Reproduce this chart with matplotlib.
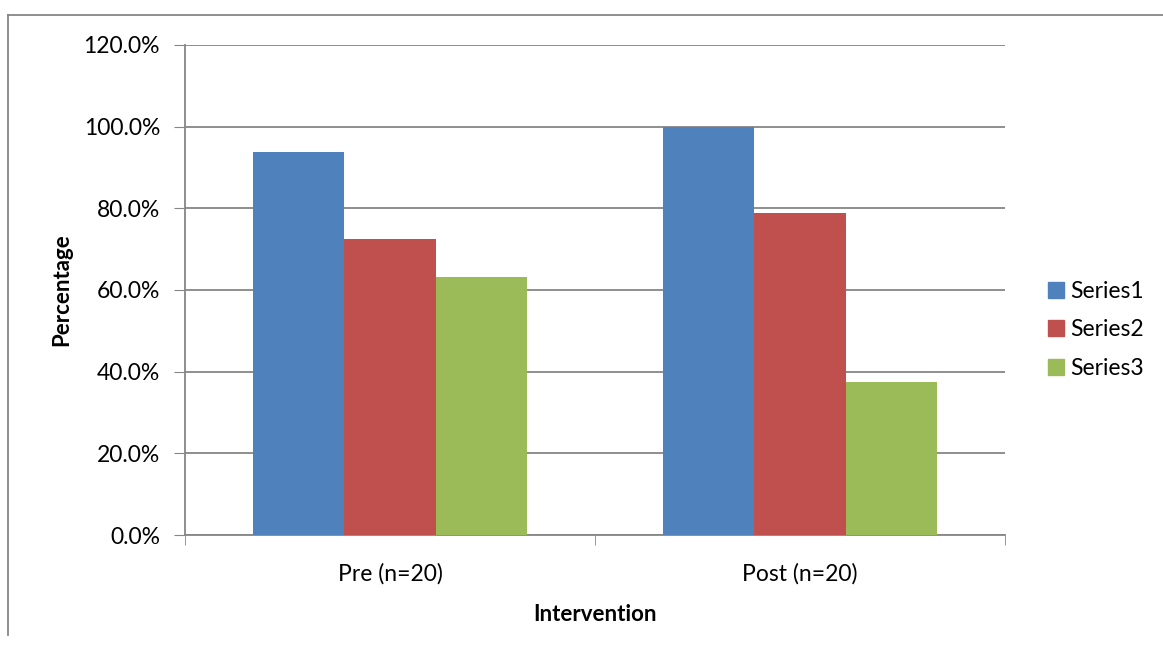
import matplotlib
matplotlib.use('Agg')
import numpy as np
import matplotlib.pyplot as plt
from matplotlib.lines import Line2D
from matplotlib.ticker import FuncFormatter

plt.rcParams['font.family'] = ['Lato', 'DejaVu Sans']

categories = ['Pre (n=20)', 'Post (n=20)']
series_names = ['Series1', 'Series2', 'Series3']
series1 = [0.9375, 1.0]
series2 = [0.726, 0.788]
series3 = [0.631, 0.375]
colors = ['#4f81bd', '#c0504d', '#9bbb59']

fig = plt.figure(figsize=(11.63, 6.5), dpi=100)
ax = fig.add_axes([185/1163, 1-535/650, 820/1163, 490/650])

x = np.arange(len(categories))
w = 0.222
for i, (vals, c) in enumerate(zip([series1, series2, series3], colors)):
    ax.bar(x + (i - 1) * w, vals, width=w, color=c, zorder=3, label=series_names[i])

ax.set_ylim(0, 1.2)
ax.set_xlim(-0.5, 1.5)
ax.set_yticks(np.arange(0, 1.21, 0.2))
ax.yaxis.set_major_formatter(FuncFormatter(lambda v, p: f'{v*100:.1f}%'))
ax.set_xticks(x)
ax.set_xticklabels(categories)
ax.set_xticks([-0.5, 0.5, 1.5], minor=True)
ax.tick_params(axis='x', which='major', length=0, pad=20, labelsize=16.5)
ax.tick_params(axis='x', which='minor', length=7, color='#868686', direction='out')
ax.tick_params(axis='y', length=8, color='#868686', pad=10, labelsize=16.5)
ax.yaxis.grid(True, color='#868686', linewidth=1.3, zorder=0)

for s in ['top', 'right']:
    ax.spines[s].set_visible(False)
for s in ['left', 'bottom']:
    ax.spines[s].set_color('#868686')
    ax.spines[s].set_linewidth(1.3)

ax.set_ylabel('Percentage', fontsize=16, fontweight='bold', labelpad=8)
ax.set_xlabel('Intervention', fontsize=16, fontweight='bold', labelpad=14)

handles = [Line2D([], [], marker='s', linestyle='', markersize=12, color=c) for c in colors]
fig.legend(handles, series_names, loc='center left', bbox_to_anchor=(1022/1163, 1-330/650),
           frameon=False, fontsize=16.5, handletextpad=0.0, labelspacing=0.75, handlelength=1.2)

# outer chart frame (partly cut off in the original)
fig.add_artist(Line2D([8/1163, 8/1163], [1-635/650, 1-15/650], color='#868686', lw=1.3))
fig.add_artist(Line2D([8/1163, 1.0], [1-15/650, 1-15/650], color='#868686', lw=1.3))

fig.savefig('out.png', dpi=100)
